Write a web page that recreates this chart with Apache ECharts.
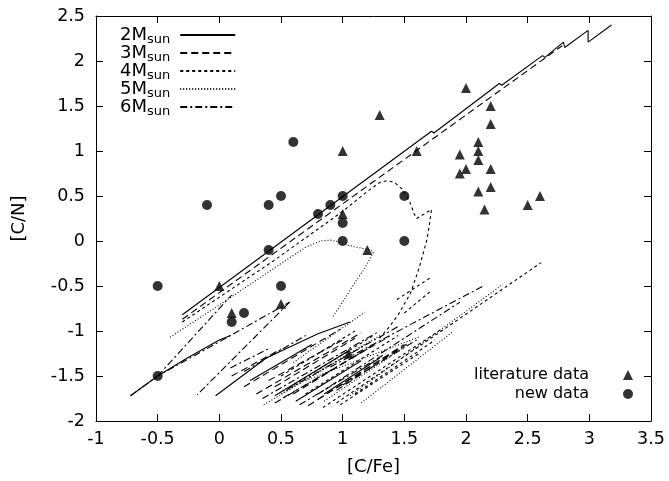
<!DOCTYPE html>
<html>
<head>
<meta charset="utf-8">
<script src="https://cdn.jsdelivr.net/npm/echarts@6/dist/echarts.min.js"></script>
<style>
html, body { margin: 0; background: #fff; }
#chart { width: 669px; height: 481px; }
</style>
</head>
<body>
<div id="chart"></div>
<script>
// model tracks; each track is a list of polyline pieces
const masses = ['2M', '3M', '4M', '5M', '6M'];

const track2M = [
    [[-0.3, -0.82], [1.72, 1.22], [1.74, 1.20], [2.27, 1.75], [2.29, 1.73], [2.62, 2.06], [2.64, 2.04],
     [2.79, 2.21], [2.80, 2.15], [2.99, 2.34], [2.99, 2.21], [3.18, 2.40]],
    [[-0.72, -1.72], [-0.5, -1.5], [-0.26, -1.30], [0.0, -1.10], [0.09, -1.05]],
    [[-0.03, -1.72], [0.38, -1.30], [0.80, -1.03], [1.06, -0.90]],
    [[0.45, -1.72], [1.05, -1.22]],
    [[0.62, -1.78], [1.15, -1.33]],
    [[0.25, -1.55], [0.75, -1.15]],
    [[0.85, -1.70], [1.30, -1.30]]
];

const track3M = [
    [[-0.3, -0.87], [2.78, 2.17]],
    [[0.20, -1.62], [0.98, -0.98]],
    [[0.30, -1.70], [1.15, -1.02]],
    [[0.52, -1.74], [1.38, -1.06]],
    [[0.72, -1.83], [1.50, -1.15]],
    [[0.40, -1.55], [1.00, -1.10]],
    [[0.45, -1.62], [1.10, -1.08]],
    [[0.60, -1.70], [1.25, -1.15]],
    [[0.80, -1.76], [1.45, -1.20]],
    [[0.95, -1.66], [1.55, -1.12]],
    [[0.10, -1.50], [0.50, -1.20]]
];

const track4M = [
    [[-0.3, -0.90], [0.44, -0.22], [1.0, 0.33], [1.2, 0.55], [1.3, 0.65], [1.36, 0.67], [1.42, 0.65],
     [1.48, 0.58], [1.54, 0.45], [1.58, 0.30], [1.60, 0.25], [1.72, 0.35], [1.70, 0.15], [1.68, 0.0],
     [1.62, -0.30], [1.55, -0.58], [1.45, -0.82], [1.38, -0.95], [1.30, -1.08]],
    [[1.44, -0.65], [1.72, -0.40]],
    [[1.50, -0.80], [1.72, -0.55]],
    [[0.95, -1.80], [2.61, -0.24]],
    [[0.84, -1.85], [1.79, -0.99]],
    [[0.60, -1.60], [1.25, -1.05]],
    [[0.98, -1.82], [1.63, -1.24]],
    [[0.70, -1.70], [1.45, -1.05]],
    [[1.10, -1.70], [1.75, -1.10]],
    [[0.50, -1.50], [1.10, -1.00]]
];

const track5M = [
    [[-0.4, -1.07], [0.1, -0.62], [0.5, -0.25], [0.7, -0.07], [0.82, 0.0], [0.9, 0.01], [0.97, -0.01],
     [1.05, -0.05], [1.15, -0.08], [1.22, -0.10], [1.25, -0.12], [1.18, -0.30], [1.09, -0.48],
     [1.0, -0.68], [0.92, -0.84]],
    [[1.06, -1.72], [2.30, -0.48]],
    [[0.60, -1.35], [1.18, -0.79]],
    [[0.70, -1.55], [1.63, -1.06]],
    [[0.36, -1.82], [1.20, -1.14]],
    [[0.50, -1.70], [1.30, -1.05]],
    [[0.85, -1.78], [1.50, -1.18]],
    [[1.15, -1.80], [1.90, -1.00]]
];

const track6M = [
    [[-0.5, -1.5], [0.1, -0.6]],
    [[-0.72, -1.72], [-0.5, -1.5], [0.0, -1.12], [0.57, -0.68]],
    [[0.57, -0.68], [-0.18, -1.71]],
    [[0.09, -1.41], [0.41, -1.19]],
    [[0.90, -1.40], [2.14, -0.50]],
    [[0.35, -1.75], [1.30, -1.00]],
    [[0.55, -1.65], [1.45, -0.95]],
    [[0.80, -1.70], [1.95, -0.68]],
    [[0.45, -1.80], [1.20, -1.20]],
    [[0.65, -1.82], [1.35, -1.25]],
    [[1.00, -1.60], [1.60, -1.10]],
    [[0.20, -1.45], [0.70, -1.05]]
];

const literatureData = [
    [0.0, -0.5], [0.1, -0.8], [0.5, -0.7], [1.0, 0.3], [1.2, -0.1], [1.0, 1.0], [1.3, 1.4], [1.6, 1.0],
    [2.0, 1.7], [2.2, 1.5], [2.2, 1.3], [2.1, 1.1], [2.1, 1.0], [1.95, 0.96], [2.1, 0.9], [2.0, 0.8],
    [2.2, 0.8], [1.95, 0.75], [2.2, 0.6], [2.1, 0.55], [2.6, 0.5], [2.5, 0.4], [2.15, 0.35], [1.05, -1.25]
];

const newData = [
    [-0.5, -1.5], [-0.5, -0.5], [-0.1, 0.4], [0.4, 0.4], [0.5, 0.5], [0.6, 1.1], [0.4, -0.1], [0.8, 0.3],
    [0.9, 0.4], [1.0, 0.5], [1.0, 0.2], [1.0, 0.0], [1.5, 0.5], [1.5, 0.0], [0.5, -0.5], [0.2, -0.8], [0.1, -0.9]
];

const tracks = { '2M': track2M, '3M': track3M, '4M': track4M, '5M': track5M, '6M': track6M };
const dashes = { '2M': 'solid', '3M': [7, 4], '4M': [3, 3], '5M': [1, 2], '6M': [7, 3, 2, 3] };

const font = 'DejaVu Sans';
const chart = echarts.init(document.getElementById('chart'));

const series = [];
masses.forEach(m => {
    tracks[m].forEach(piece => {
        series.push({
            name: m,
            type: 'line',
            data: piece,
            symbol: 'none',
            showSymbol: false,
            silent: true,
            itemStyle: { color: '#000' },
            lineStyle: { color: '#000', width: 1.1, type: dashes[m] }
        });
    });
});
series.push({
    name: 'literature data',
    type: 'scatter',
    data: literatureData,
    symbol: 'triangle',
    symbolSize: 10,
    itemStyle: { color: '#000' },
    z: 5
});
series.push({
    name: 'new data',
    type: 'scatter',
    data: newData,
    symbol: 'circle',
    symbolSize: 10,
    itemStyle: { color: '#000' },
    z: 5
});

const axisCommon = {
    type: 'value',
    axisLine: { show: true, onZero: false, lineStyle: { color: '#000', width: 1 } },
    axisTick: { show: true, inside: true, length: 7, lineStyle: { color: '#000' } },
    splitLine: { show: false }
};

const scatterLegend = (name, top) => ({
    data: [name],
    right: 31,
    top: top,
    align: 'right',
    itemWidth: 10,
    itemHeight: 10,
    selectedMode: false,
    formatter: n => `{t|${n}}{g|}`,
    textStyle: {
        rich: {
            t: { fontFamily: font, fontSize: 16, color: '#000' },
            g: { width: 29 }
        }
    }
});

chart.setOption({
    animation: false,
    backgroundColor: '#fff',
    grid: { left: 96, right: 18, top: 16, bottom: 56 },
    xAxis: [
        Object.assign({}, axisCommon, {
            min: -1, max: 3.5, interval: 0.5, position: 'bottom',
            name: '[C/Fe]', nameLocation: 'middle', nameGap: 37,
            nameTextStyle: { fontFamily: font, fontSize: 18, color: '#000' },
            axisLabel: { color: '#000', fontFamily: font, fontSize: 17.5, margin: 9 }
        }),
        Object.assign({}, axisCommon, {
            min: -1, max: 3.5, interval: 0.5, position: 'top', axisLabel: { show: false }
        })
    ],
    yAxis: [
        Object.assign({}, axisCommon, {
            min: -2, max: 2.5, interval: 0.5, position: 'left',
            name: '[C/N]', nameLocation: 'middle', nameGap: 68,
            nameTextStyle: { fontFamily: font, fontSize: 18, color: '#000' },
            axisLabel: { color: '#000', fontFamily: font, fontSize: 17.5, margin: 11 }
        }),
        Object.assign({}, axisCommon, {
            min: -2, max: 2.5, interval: 0.5, position: 'right', axisLabel: { show: false }
        })
    ],
    legend: [
        {
            data: masses,
            orient: 'vertical',
            left: 115,
            top: 19,
            align: 'right',
            itemWidth: 55,
            itemHeight: 10,
            itemGap: -4,
            selectedMode: false,
            itemStyle: { opacity: 0 },
            formatter: n => `{m|${n}}{s|sun}`,
            textStyle: {
                rich: {
                    m: { fontFamily: font, fontSize: 18, color: '#000', lineHeight: 18 },
                    s: { fontFamily: font, fontSize: 13, color: '#000', lineHeight: 13, padding: [9, 5, 0, 0] }
                }
            }
        },
        scatterLegend('literature data', 362),
        scatterLegend('new data', 381)
    ],
    series: series
});
</script>
</body>
</html>
